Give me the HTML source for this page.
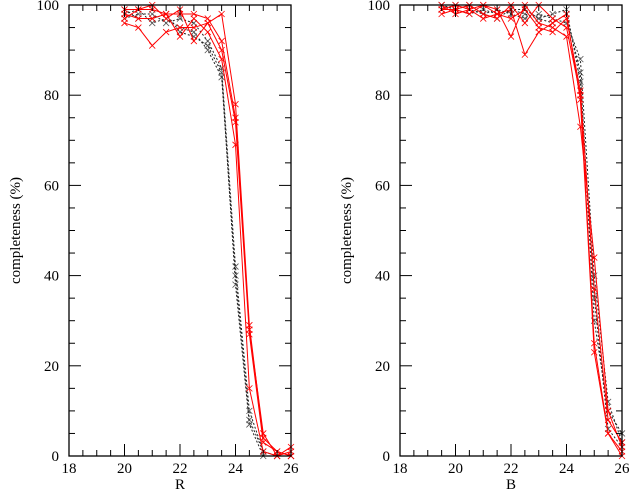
<!DOCTYPE html>
<html><head><meta charset="utf-8"><style>
body{margin:0;background:#fff}
svg text{font-family:"Liberation Serif",serif;font-size:15px;fill:#000}
</style></head><body>
<svg id="chart" width="633" height="491"></svg>
<script>
const mags=[20,20.5,21,21.5,22,22.5,23,23.5,24,24.5,25,25.5,26];
const rRed1=[97,99,99,98,98,98,97,92,75,28,5,0,2];
const rRed2=[96,95,91,94,95,95,96,98,78,29,4,1,0];
const rRed3=[98,97,97,98,93,97,94,88,69,15,1,0,1];
const rRed4=[99,99,100,97,99,92,96,90,74,27,3,1,0];
const rBlk1=[98,99,96,97,95,94,90,84,40,8,1,0,0];
const rBlk2=[97,98,98,96,97,96,92,86,42,10,1,0,0];
const rBlk3=[99,97,97,98,94,93,91,85,38,7,0,0,0];
const bmags=[19.5,20,20.5,21,21.5,22,22.5,23,23.5,24,24.5,25,25.5,26];
const bRed1=[98,99,100,98,97,100,96,100,97,95,80,25,5,1];
const bRed2=[99,99,98,100,99,93,100,96,95,93,73,44,10,2];
const bRed3=[100,98,99,97,98,99,89,94,96,98,79,23,5,0];
const bRed4=[99,100,99,100,98,97,99,95,94,97,81,37,8,3];
const bBlk1=[100,99,98,99,98,99,98,97,96,98,85,30,10,5];
const bBlk2=[99,100,99,98,99,98,97,98,97,96,88,40,12,3];
const bBlk3=[100,99,100,98,97,99,99,97,98,99,83,35,6,2];
const xTicks=[18,20,22,24,26];
const yTicks=[0,20,40,60,80,100];

const svg=document.getElementById('chart');
const NS='http://www.w3.org/2000/svg';
function mk(t,a){const e=document.createElementNS(NS,t);for(const k in a)e.setAttribute(k,a[k]);svg.appendChild(e);return e;}
const topY=5,botY=456;
function panel(x0,x1,name,label,series){
  const sx=v=>x0+(v-18)/8*(x1-x0), sy=v=>botY-v/100*(botY-topY);
  series.forEach((s,i)=>{
    const xs=s.x, ys=s.y, red=s.red;
    const pts=xs.map((m,j)=>sx(m)+','+sy(ys[j])).join(' ');
    const pl=mk('polyline',{points:pts,fill:'none',stroke:red?'#ff0000':'#222','stroke-width':1,'stroke-dasharray':red?'none':'2,2'});
    
    
    xs.forEach((m,j)=>{const cx=sx(m),cy=sy(ys[j]);
      const p=mk('path',{d:`M${cx-3},${cy-3}L${cx+3},${cy+3}M${cx-3},${cy+3}L${cx+3},${cy-3}`,stroke:red?'#ff0000':'#555','stroke-width':0.8});
      
      });
  });
  const f=mk('rect',{x:x0,y:topY,width:x1-x0,height:botY-topY,fill:'none',stroke:'#000','stroke-width':1.3});
  
  
  for(let k=0;k<=16;k++){const v=18+k*0.5,X=sx(v),L=(k%4===0)?12:6;
    mk('line',{x1:X,x2:X,y1:botY,y2:botY-L,stroke:'#000'});mk('line',{x1:X,x2:X,y1:topY,y2:topY+L,stroke:'#000'});}
  for(let v=0;v<=100;v+=5){const Y=sy(v),L=(v%20===0)?12:6;
    mk('line',{x1:x0,x2:x0+L,y1:Y,y2:Y,stroke:'#000'});mk('line',{x1:x1,x2:x1-L,y1:Y,y2:Y,stroke:'#000'});}
  xTicks.forEach(v=>{const t=mk('text',{x:sx(v),y:botY+17,'text-anchor':'middle'});t.textContent=v;
    
    });
  yTicks.forEach(v=>{const t=mk('text',{x:x0-10,y:sy(v)+5,'text-anchor':'end'});t.textContent=v;
    
    });
  const xl=mk('text',{x:(x0+x1)/2,y:botY+33,'text-anchor':'middle'});xl.textContent=label;
  
  
  const yl=mk('text',{x:0,y:0,'text-anchor':'middle',transform:`translate(${x0-49},${(topY+botY)/2}) rotate(-90)`});yl.textContent='completeness (%)';
  
  
}
panel(69,291,'r-panel','R',[
 {x:mags,y:rBlk1},{x:mags,y:rBlk2},{x:mags,y:rBlk3},
 {x:mags,y:rRed1,red:1},{x:mags,y:rRed2,red:1},{x:mags,y:rRed3,red:1},{x:mags,y:rRed4,red:1}]);
panel(400,622,'b-panel','B',[
 {x:bmags,y:bBlk1},{x:bmags,y:bBlk2},{x:bmags,y:bBlk3},
 {x:bmags,y:bRed1,red:1},{x:bmags,y:bRed2,red:1},{x:bmags,y:bRed3,red:1},{x:bmags,y:bRed4,red:1}]);
</script>
</body></html>
